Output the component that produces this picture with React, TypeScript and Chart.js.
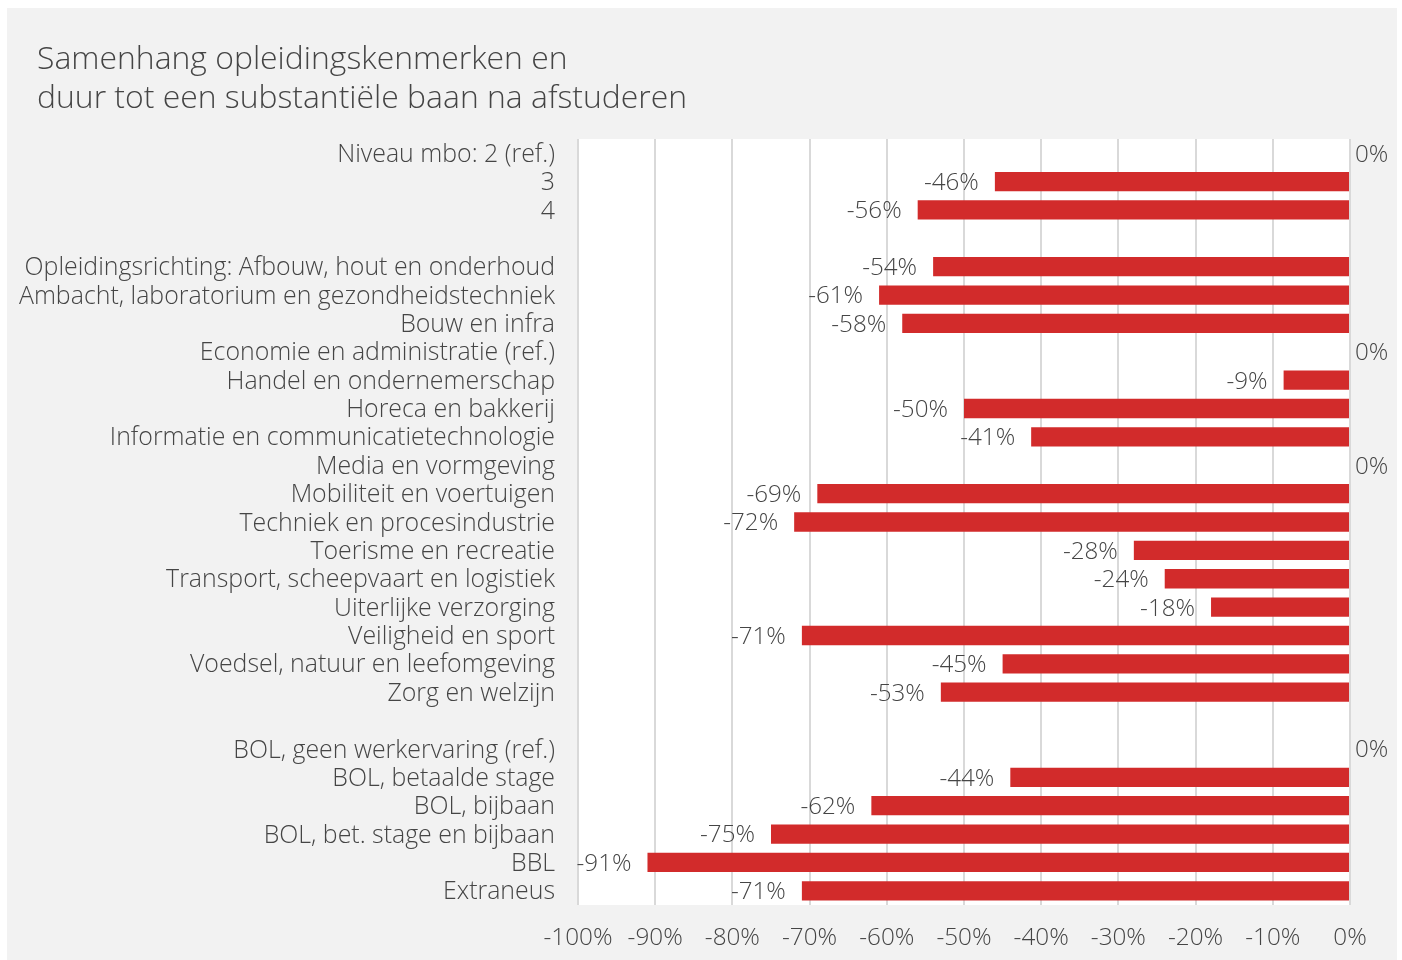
import React, { useEffect, useRef } from "react";
import { Chart, registerables } from "chart.js";

Chart.register(...registerables);

const titleLines = [
  "Samenhang opleidingskenmerken en",
  "duur tot een substantiële baan na afstuderen",
];

const categories = [
  "Niveau mbo: 2 (ref.)",
  "3",
  "4",
  "",
  "Opleidingsrichting: Afbouw, hout en onderhoud",
  "Ambacht, laboratorium en gezondheidstechniek",
  "Bouw en infra",
  "Economie en administratie (ref.)",
  "Handel en ondernemerschap",
  "Horeca en bakkerij",
  "Informatie en communicatietechnologie",
  "Media en vormgeving",
  "Mobiliteit en voertuigen",
  "Techniek en procesindustrie",
  "Toerisme en recreatie",
  "Transport, scheepvaart en logistiek",
  "Uiterlijke verzorging",
  "Veiligheid en sport",
  "Voedsel, natuur en leefomgeving",
  "Zorg en welzijn",
  " ",
  "BOL, geen werkervaring (ref.)",
  "BOL, betaalde stage",
  "BOL, bijbaan",
  "BOL, bet. stage en bijbaan",
  "BBL",
  "Extraneus",
];

const values: (number | null)[] = [
  0, -46, -56, null,
  -54, -61, -58, 0, -8.6, -50, -41.3, 0, -69, -72, -28, -24, -18, -71, -45, -53,
  null,
  0, -44, -62, -75, -91, -71,
];

const xTicks = [-100, -90, -80, -70, -60, -50, -40, -30, -20, -10, 0];

const FONT = "'Open Sans', Lato, sans-serif";
const WEIGHT = "300";
const TEXT = "#454545";
const BAR = "#d22b2b";

function fitSize(text: string, target: number): number {
  const c = document.createElement("canvas").getContext("2d") as CanvasRenderingContext2D;
  c.font = `${WEIGHT} 20px ${FONT}`;
  const w = c.measureText(text).width;
  return Math.round((20 * target) / w * 10) / 10;
}

export default function App() {
  const ref = useRef<HTMLCanvasElement | null>(null);
  useEffect(() => {
    document.documentElement.style.overflow = "hidden";
    const titleSize = fitSize(titleLines[1], 651);
    const labelSize = fitSize(categories[4], 530);
    const tickSize = fitSize("-100%", 69);
    const dataSize = fitSize("-46%", 55);

    const titlePlugin = {
      id: "titleLines",
      afterDraw(chart: any) {
        const ctx = chart.ctx;
        ctx.save();
        ctx.font = `${WEIGHT} ${titleSize}px ${FONT}`;
        ctx.fillStyle = TEXT;
        ctx.textAlign = "left";
        ctx.textBaseline = "middle";
        ctx.fillText(titleLines[0], 30, 51.5);
        ctx.fillText(titleLines[1], 30, 90.5);
        ctx.restore();
      },
    };

    const labelPlugin = {
      id: "barLabels",
      afterDatasetsDraw(chart: any) {
        const ctx = chart.ctx;
        const meta = chart.getDatasetMeta(0);
        const xs = chart.scales.x;
        ctx.save();
        ctx.font = `${WEIGHT} ${dataSize}px ${FONT}`;
        ctx.fillStyle = TEXT;
        ctx.textBaseline = "middle";
        meta.data.forEach((el: any, i: number) => {
          const v = values[i];
          if (v === null || v === undefined) return;
          const txt = `${Math.round(v)}%`;
          if (v === 0) {
            ctx.textAlign = "left";
            ctx.fillText(txt, xs.getPixelForValue(0) + 5, el.y + 1.5);
          } else {
            ctx.textAlign = "right";
            ctx.fillText(txt, xs.getPixelForValue(v) - 16, el.y + 1.5);
          }
        });
        ctx.restore();
      },
    };

    const chart = new Chart(ref.current as HTMLCanvasElement, {
      type: "bar",
      data: {
        labels: categories,
        datasets: [
          {
            data: values,
            backgroundColor: BAR,
            borderWidth: 0,
            barPercentage: 0.68,
            categoryPercentage: 1,
          },
        ],
      },
      options: {
        indexAxis: "y",
        animation: false,
        responsive: false,
        layout: { padding: { top: 131, right: 47, left: 0, bottom: 0 } },
        plugins: {
          legend: { display: false },
          tooltip: { enabled: false },
          title: { display: false },
        },
        scales: {
          x: {
            min: -100,
            max: 0,
            afterBuildTicks(scale: any) {
              scale.ticks = xTicks.map((v) => ({ value: v }));
            },
            afterFit(scale: any) {
              scale.height = 55;
            },
            grid: { color: "#d9d9d9", lineWidth: 2, drawTicks: false },
            border: { display: false },
            ticks: {
              padding: 18,
              color: TEXT,
              font: { family: FONT, size: tickSize, weight: WEIGHT },
              maxRotation: 0,
              callback: (v: any) => `${v}%`,
            },
          },
          y: {
            afterFit(scale: any) {
              scale.width = 571;
            },
            grid: { display: false, drawTicks: false },
            border: { display: false },
            ticks: {
              padding: 23,
              labelOffset: 1.5,
              color: TEXT,
              autoSkip: false,
              font: { family: FONT, size: labelSize, weight: WEIGHT },
            },
          },
        },
      },
      plugins: [titlePlugin, labelPlugin],
    } as any);
    return () => chart.destroy();
  }, []);
  return (
    <div
      style={{
        position: "absolute",
        left: 7,
        top: 8,
        width: 1390,
        height: 952,
        background: "#f2f2f2",
      }}
    >
      <div
        style={{
          position: "absolute",
          left: 571,
          top: 131,
          width: 772,
          height: 766,
          background: "#ffffff",
        }}
      />
      <canvas
        ref={ref}
        width={1390}
        height={952}
        style={{ position: "absolute", left: 0, top: 0 }}
      />
    </div>
  );
}
